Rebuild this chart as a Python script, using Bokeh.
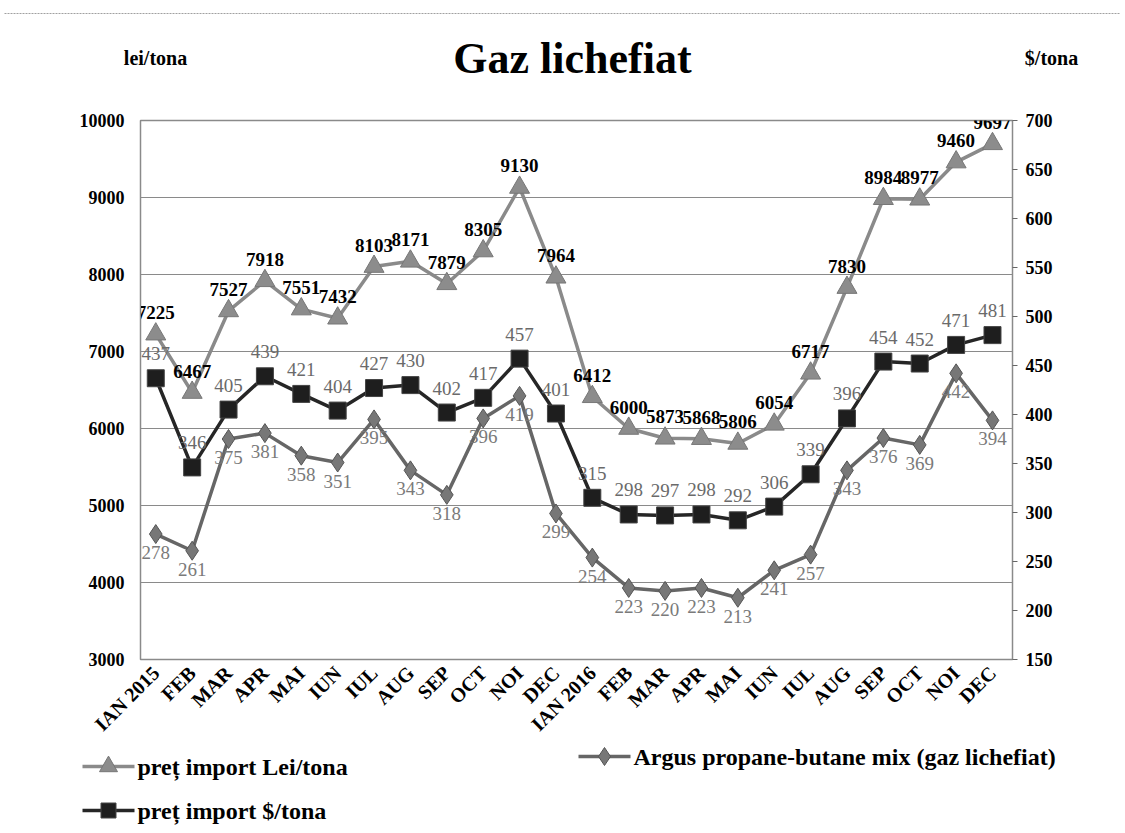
from bokeh.plotting import figure
from bokeh.layouts import column
from bokeh.models import Range1d, LinearAxis, FixedTicker, ColumnDataSource
from bokeh.core.properties import value
from bokeh.embed import file_html
from bokeh.resources import INLINE
import math

months = ["IAN 2015", "FEB", "MAR", "APR", "MAI", "IUN", "IUL", "AUG", "SEP", "OCT", "NOI", "DEC",
          "IAN 2016", "FEB", "MAR", "APR", "MAI", "IUN", "IUL", "AUG", "SEP", "OCT", "NOI", "DEC"]
lei_tona = [7225, 6467, 7527, 7918, 7551, 7432, 8103, 8171, 7879, 8305, 9130, 7964,
            6412, 6000, 5873, 5868, 5806, 6054, 6717, 7830, 8984, 8977, 9460, 9697]
usd_tona = [437, 346, 405, 439, 421, 404, 427, 430, 402, 417, 457, 401,
            315, 298, 297, 298, 292, 306, 339, 396, 454, 452, 471, 481]
argus = [278, 261, 375, 381, 358, 351, 395, 343, 318, 396, 419, 299,
         254, 223, 220, 223, 213, 241, 257, 343, 376, 369, 442, 394]
left_ticks = [3000, 4000, 5000, 6000, 7000, 8000, 9000, 10000]
right_ticks = [150, 200, 250, 300, 350, 400, 450, 500, 550, 600, 650, 700]
series_names = ["preț import Lei/tona", "Argus propane-butane mix (gaz lichefiat)", "preț import $/tona"]
chart_title = "Gaz lichefiat"
left_unit = "lei/tona"
right_unit = "$/tona"

FONT = "Liberation Serif"
W = 1120
HEAD_H, MAIN_H, FOOT_H = 105, 640, 85
FL, FR = 140, 1012
x = list(range(len(months)))

C_LEI = "#8c8c8c"
C_LEI_LINE = "#8a8a8a"
C_USD = "#1e1e1e"
C_USD_LINE = "#262626"
C_ARG = "#777777"
C_ARG_LINE = "#666666"
C_BORDER = "#a0a0a0"


def blank(h, y0):
    f = figure(width=W, height=h, output_backend="svg", toolbar_location=None,
               x_range=Range1d(0, W), y_range=Range1d(y0 + h, y0),
               x_axis_type=None, y_axis_type=None, min_border=0)
    f.frame_align = False
    f.outline_line_color = None
    f.grid.grid_line_color = None
    f.background_fill_color = "white"
    f.border_fill_color = "white"
    return f


# ---------- header ----------
head = blank(HEAD_H, 0)
head.line(x=[4, 1119], y=[13, 13], line_color=C_BORDER, line_width=1, line_dash="2 1")
head.text(x=[572], y=[58], text=[chart_title], text_font=value(FONT), text_font_style="bold",
          text_font_size="44px", text_align="center", text_baseline="middle", text_color="black")
head.text(x=[155, 1051], y=[57, 57], text=[left_unit, right_unit], text_font=value(FONT),
          text_font_style="bold", text_font_size="20px", text_align="center",
          text_baseline="middle", text_color="black")

# ---------- main chart ----------
p = figure(width=W, height=MAIN_H, output_backend="svg", toolbar_location=None,
           x_range=Range1d(-0.42, 23.55), y_range=Range1d(3000, 10000),
           min_border_left=FL, min_border_right=W - FR, min_border_top=15, min_border_bottom=82)
p.frame_align = False
p.extra_y_ranges = {"right": Range1d(150, 700)}
p.background_fill_color = "white"
p.border_fill_color = "white"
p.outline_line_color = "#8a8a8a"
p.outline_line_width = 1.5

p.xaxis.ticker = FixedTicker(ticks=x)
p.xaxis.major_label_overrides = {i: m for i, m in enumerate(months)}
p.xaxis.major_label_orientation = math.pi / 4
p.xaxis.major_label_text_font = FONT
p.xaxis.major_label_text_font_style = "bold"
p.xaxis.major_label_text_font_size = "20px"
p.xaxis.major_label_text_color = "black"
p.xaxis.major_tick_line_color = None
p.xaxis.minor_tick_line_color = None
p.xaxis.axis_line_color = "#8a8a8a"
p.xaxis.major_label_standoff = 4

p.yaxis.ticker = FixedTicker(ticks=left_ticks)
p.yaxis.major_label_text_font = FONT
p.yaxis.major_label_text_font_style = "bold"
p.yaxis.major_label_text_font_size = "18px"
p.yaxis.major_label_text_color = "black"
p.yaxis.major_tick_line_color = None
p.yaxis.minor_tick_line_color = None
p.yaxis.axis_line_color = "#8a8a8a"
p.yaxis.major_label_standoff = 10

raxis = LinearAxis(y_range_name="right", ticker=FixedTicker(ticks=right_ticks))
raxis.major_label_text_font = FONT
raxis.major_label_text_font_style = "bold"
raxis.major_label_text_font_size = "18px"
raxis.major_label_text_color = "black"
raxis.major_tick_out = 5
raxis.major_tick_in = 0
raxis.major_tick_line_color = "#666666"
raxis.minor_tick_line_color = None
raxis.axis_line_color = "#8a8a8a"
raxis.major_label_standoff = 8
p.add_layout(raxis, "right")

p.xgrid.grid_line_color = None
p.ygrid.ticker = FixedTicker(ticks=left_ticks)
p.ygrid.grid_line_color = "#8a8a8a"
p.ygrid.grid_line_width = 1.2

src = ColumnDataSource(dict(x=x, lei=lei_tona, usd=usd_tona, argus=argus,
                            lei_t=[str(v) for v in lei_tona],
                            usd_t=[str(v) for v in usd_tona],
                            argus_t=[str(v) for v in argus]))

p.line("x", "argus", source=src, y_range_name="right", line_color=C_ARG_LINE, line_width=3.5)
p.scatter("x", "argus", source=src, y_range_name="right", marker="diamond", size=19,
          fill_color=C_ARG, line_color="#555555")
p.line("x", "usd", source=src, y_range_name="right", line_color=C_USD_LINE, line_width=3.5)
p.scatter("x", "usd", source=src, y_range_name="right", marker="square", size=17,
          fill_color=C_USD, line_color="#444444")
p.line("x", "lei", source=src, line_color=C_LEI_LINE, line_width=3.5)
p.scatter("x", "lei", source=src, marker="triangle", size=20,
          fill_color=C_LEI, line_color="#777777")

p.text("x", "argus", text="argus_t", source=src, y_range_name="right",
       text_font=value(FONT), text_font_size="19px", text_color="#7a7a7a",
       text_align="center", text_baseline="top", y_offset=12)
p.text("x", "usd", text="usd_t", source=src, y_range_name="right",
       text_font=value(FONT), text_font_size="19px", text_color="#6a6a6a",
       text_align="center", text_baseline="bottom", y_offset=-18)
p.text("x", "lei", text="lei_t", source=src,
       text_font=value(FONT), text_font_size="19px", text_font_style="bold", text_color="black",
       text_align="center", text_baseline="bottom", y_offset=-15)

# ---------- footer (legend) ----------
foot = blank(FOOT_H, HEAD_H + MAIN_H)


def legend_entry(x0, yc, marker, size, color, edge, line_color, label):
    foot.line(x=[x0, x0 + 52], y=[yc, yc], line_color=line_color, line_width=3.5)
    foot.scatter(x=[x0 + 26], y=[yc], marker=marker, size=size, fill_color=color, line_color=edge)
    foot.text(x=[x0 + 55], y=[yc], text=[label], text_font=value(FONT), text_font_style="bold",
              text_font_size="24px", text_align="left", text_baseline="middle", text_color="black")


legend_entry(82, 766, "triangle", 18, C_LEI, "#777777", C_LEI_LINE, series_names[0])
legend_entry(578, 756, "diamond", 18, C_ARG, "#555555", C_ARG_LINE, series_names[1])
legend_entry(82, 810, "square", 15, C_USD, "#444444", C_USD_LINE, series_names[2])

layout = column(head, p, foot, spacing=0)
open("out.html", "w").write(file_html(layout, INLINE))
